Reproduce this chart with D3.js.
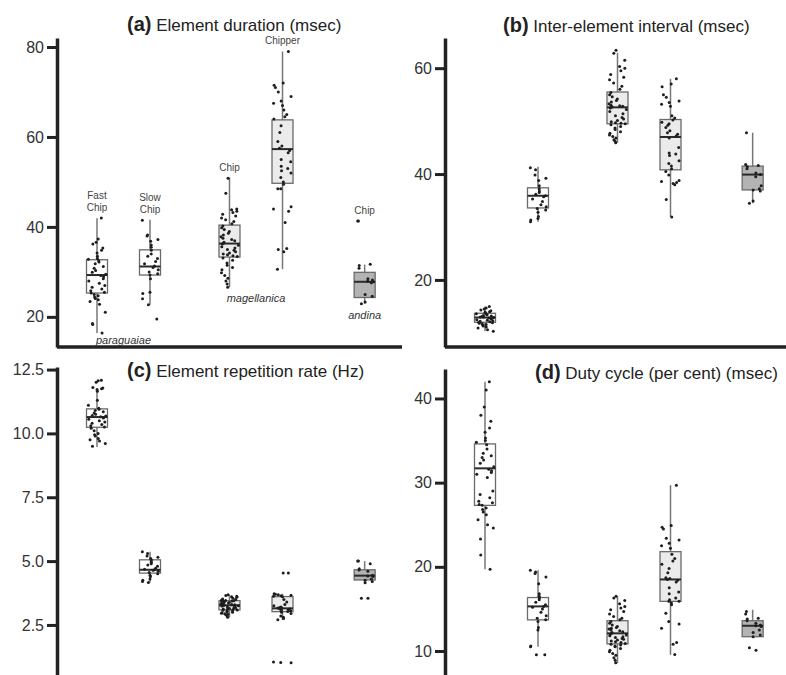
<!doctype html>
<html lang="en">
<head>
<meta charset="utf-8">
<title>Element measures</title>
<script src="https://d3js.org/d3.v7.min.js"></script>
<style>
  body { margin: 0; background: #fff; }
  svg text { font-family: Arial, "Liberation Sans", sans-serif; }
</style>
</head>
<body>
<script>
// groups, left to right, same in every panel
const groupLines   = [["Fast", "Chip"], ["Slow", "Chip"], ["Chip"], ["Chipper"], ["Chip"]];
const groupSpecies = [0, 0, 1, 1, 2];
const speciesNames = ["paraguaiae", "magellanica", "andina"];

// box stats per group: [whisker low, q1, median, q3, whisker high]
// (a) element duration (msec)
const durationBox = [[16.4, 25.3, 29.3, 32.7, 41.9], [22.7, 29.3, 31.2, 34.9, 41.6],
                     [26.6, 33.3, 36.3, 40.4, 51.0], [30.6, 49.7, 57.3, 63.8, 79.0],
                     [22.9, 24.3, 27.8, 29.9, 31.6]];
const durationPts = [
  [42.0, 37.3, 36.6, 36.2, 35.3, 34.8, 34.2, 33.5, 33.0, 32.8, 32.5, 32.2, 31.8, 31.2, 30.8, 30.3, 29.9, 29.5, 29.2, 28.9,
   28.5, 28.0, 27.5, 27.0, 26.6, 26.2, 25.8, 25.5, 25.3, 25.0, 24.7, 24.4, 24.1, 23.8, 23.4, 22.8, 21.0, 18.5, 18.3, 16.4],
  [41.5, 38.2, 38.0, 37.2, 36.8, 36.0, 35.5, 34.8, 34.0, 33.5, 33.0, 32.3, 31.8, 31.3, 31.0, 30.5, 30.0, 29.6, 29.3, 28.5,
   25.5, 25.2, 24.0, 22.7, 19.5],
  [50.8, 47.5, 44.0, 43.8, 43.5, 43.2, 42.8, 42.4, 42.0, 41.6, 41.2, 40.7, 40.2, 39.8, 39.4, 39.0, 38.6, 38.2, 37.8, 37.5,
   37.2, 36.9, 36.6, 36.4, 36.2, 35.9, 35.6, 35.3, 35.0, 34.8, 34.5, 34.2, 34.0, 33.8, 33.6, 33.4, 33.1, 32.6, 32.0, 31.5,
   31.0, 30.5, 29.8, 29.2, 28.6, 28.0, 27.3, 26.6],
  [79.0, 72.0, 71.5, 71.0, 70.0, 69.0, 68.0, 67.5, 67.0, 66.0, 65.0, 64.5, 64.0, 62.5, 61.0, 59.0, 58.0, 57.5, 57.0, 56.5,
   55.0, 54.5, 53.5, 53.0, 52.5, 52.0, 51.0, 50.0, 49.5, 48.5, 48.5, 44.5, 44.0, 43.5, 41.0, 35.2, 35.0, 34.5, 30.6],
  [41.3, 41.3, 31.7, 31.4, 30.8, 28.5, 28.2, 27.9, 27.8, 27.6, 25.0, 24.6, 23.3, 22.9]
];

// (b) inter-element interval (msec)
const intervalBox = [[10.3, 12.0, 12.9, 13.7, 15.0], [31.0, 33.6, 35.9, 37.4, 41.4],
                     [45.9, 49.5, 52.6, 55.5, 62.9], [31.9, 40.8, 47.0, 50.3, 58.0],
                     [34.5, 37.0, 39.9, 41.5, 47.8]];
const intervalPts = [
  [15.0, 14.7, 14.5, 14.3, 14.2, 14.0, 13.9, 13.8, 13.7, 13.6, 13.5, 13.4, 13.3, 13.2, 13.1, 13.0, 13.0, 12.9, 12.8, 12.7,
   12.6, 12.5, 12.4, 12.3, 12.2, 12.1, 12.0, 11.9, 11.8, 11.7, 11.6, 11.5, 11.3, 11.1, 10.9, 10.6, 10.3],
  [41.2, 40.8, 39.8, 39.2, 38.8, 37.8, 37.2, 36.8, 36.5, 36.2, 35.9, 35.7, 35.3, 34.8, 34.2, 33.8, 33.5, 33.2, 32.8, 32.0,
   31.6, 31.3, 31.0],
  [63.4, 62.8, 61.5, 60.3, 60.0, 59.5, 58.8, 58.3, 57.8, 57.2, 56.6, 56.0, 55.4, 55.0, 54.6, 54.2, 53.9, 53.6, 53.3, 53.0,
   52.9, 52.8, 52.7, 52.6, 52.5, 52.2, 51.8, 51.4, 51.0, 50.7, 50.4, 50.1, 49.9, 49.7, 49.6, 49.5, 49.3, 49.0, 48.7, 48.4,
   48.0, 47.7, 47.4, 47.1, 46.8, 46.5, 46.2, 45.9],
  [58.0, 57.0, 56.5, 55.0, 54.5, 53.8, 53.5, 53.2, 52.8, 51.0, 50.6, 50.2, 49.8, 49.5, 49.2, 48.8, 48.2, 47.8, 47.5, 47.2,
   46.8, 45.0, 44.0, 43.8, 43.5, 42.5, 42.0, 41.5, 41.0, 40.5, 39.8, 38.8, 38.6, 38.4, 38.2, 38.0, 35.2, 31.9],
  [47.8, 41.8, 41.6, 41.4, 41.0, 40.2, 39.9, 39.5, 37.8, 37.2, 37.0, 36.8, 34.9, 34.5]
];

// (c) element repetition rate (Hz)
const rateBox = [[9.47, 10.24, 10.64, 10.96, 11.65], [4.16, 4.53, 4.66, 5.05, 5.37],
                 [2.80, 3.09, 3.27, 3.45, 3.68], [2.70, 3.02, 3.15, 3.61, 3.72],
                 [4.13, 4.26, 4.43, 4.66, 5.00]];
const ratePts = [
  [12.08, 12.06, 12.0, 11.8, 11.78, 11.75, 11.72, 11.65, 11.3, 11.1, 10.98, 10.95, 10.9, 10.85, 10.8, 10.75, 10.7, 10.68,
   10.65, 10.62, 10.6, 10.55, 10.5, 10.45, 10.4, 10.35, 10.3, 10.25, 10.2, 10.1, 10.0, 9.95, 9.9, 9.8, 9.75, 9.7, 9.6, 9.5],
  [5.37, 5.3, 5.2, 5.15, 5.1, 5.05, 5.0, 4.95, 4.9, 4.85, 4.8, 4.72, 4.68, 4.66, 4.64, 4.6, 4.55, 4.5, 4.45, 4.4,
   4.3, 4.25, 4.2, 4.16],
  [3.68, 3.65, 3.62, 3.6, 3.58, 3.55, 3.52, 3.5, 3.48, 3.46, 3.45, 3.44, 3.43, 3.42, 3.4, 3.38, 3.36, 3.34, 3.32, 3.31,
   3.3, 3.29, 3.28, 3.27, 3.26, 3.25, 3.24, 3.22, 3.2, 3.18, 3.16, 3.14, 3.12, 3.11, 3.1, 3.09, 3.08, 3.06, 3.04, 3.02,
   3.0, 2.98, 2.96, 2.94, 2.92, 2.9, 2.85, 2.8],
  [4.53, 4.53, 3.72, 3.7, 3.68, 3.66, 3.64, 3.62, 3.6, 3.5, 3.4, 3.3, 3.25, 3.2, 3.18, 3.16, 3.15, 3.14, 3.12, 3.1,
   3.08, 3.06, 3.05, 3.03, 3.0, 2.95, 2.85, 2.8, 2.75, 2.7, 1.03, 1.02, 1.05],
  [5.0, 5.0, 4.9, 4.7, 4.65, 4.6, 4.45, 4.42, 4.4, 4.3, 4.25, 4.2, 4.15, 3.55, 3.55]
];

// (d) duty cycle (per cent)
const dutyBox = [[19.7, 27.3, 31.7, 34.6, 42.0], [10.5, 13.7, 15.3, 16.35, 19.6],
                 [8.55, 10.85, 12.1, 13.6, 16.5], [9.55, 15.9, 18.5, 21.8, 29.7],
                 [11.7, 11.7, 13.0, 13.6, 14.9]];
const dutyPts = [
  [42.0, 41.0, 39.0, 38.0, 37.3, 36.5, 36.0, 35.3, 35.0, 34.8, 34.5, 34.0, 33.5, 33.2, 33.0, 32.7, 32.3, 31.9, 31.6, 31.4,
   31.2, 31.0, 30.6, 29.0, 28.6, 28.2, 27.8, 27.6, 27.4, 27.3, 27.0, 26.8, 26.5, 26.2, 25.6, 25.0, 24.6, 23.3, 21.4, 19.7],
  [19.6, 19.4, 19.2, 18.8, 18.0, 16.8, 16.5, 16.3, 16.1, 15.8, 15.5, 15.3, 15.2, 15.0, 14.6, 14.2, 13.9, 13.7, 13.5, 12.8,
   12.5, 10.6, 10.5, 9.55, 9.55],
  [16.5, 16.3, 16.0, 15.6, 15.3, 15.1, 14.9, 14.7, 14.4, 14.1, 13.9, 13.7, 13.5, 13.3, 13.1, 12.9, 12.8, 12.7, 12.6, 12.5,
   12.4, 12.3, 12.2, 12.1, 12.0, 11.9, 11.8, 11.7, 11.6, 11.5, 11.4, 11.3, 11.2, 11.1, 11.0, 10.9, 10.8, 10.7, 10.6, 10.5,
   10.3, 10.1, 9.9, 9.7, 9.5, 9.2, 8.9, 8.6],
  [29.7, 24.9, 24.7, 24.5, 23.4, 23.2, 22.8, 22.5, 22.2, 21.5, 21.0, 20.7, 20.3, 19.8, 19.3, 18.7, 18.6, 18.5, 18.4, 18.2,
   17.5, 17.0, 16.8, 16.3, 16.1, 15.9, 15.9, 15.7, 15.5, 14.5, 13.5, 13.2, 12.7, 11.0, 10.8, 9.6],
  [14.7, 14.4, 13.9, 13.8, 13.6, 13.3, 13.1, 13.0, 12.9, 12.5, 12.2, 11.9, 11.7, 10.4, 10.1]
];

const boxFill = ["#ffffff", "#ffffff", "#ebebeb", "#ebebeb", "#b3b3b3"];
const groupSlot = [0, 1, 2.5, 3.5, 5.05];

const W = 786, H = 675;
const svg = d3.select("body").append("svg")
  .attr("width", W).attr("height", H);

// horizontal jitter for the dots (position only, fixed per index)
function jitter(k, i)
{
  const s = Math.sin((k + 1) * 12.9898 + (i + 1) * 78.233) * 43758.5453;
  return s - Math.floor(s) - 0.5;
}

function drawPanel(p)
{
  const g = svg.append("g");

  const y = d3.scaleLinear().domain(p.domain).range([p.bottom, p.top]);
  const x = d3.scaleLinear().domain([0, 5]).range([p.axisX + 40, p.axisX + 305]);

  // baseline (only the top row has one)
  if (p.base) {
    g.append("line")
      .attr("x1", p.axisX).attr("x2", p.right)
      .attr("y1", p.bottom).attr("y2", p.bottom)
      .attr("stroke", "#222").attr("stroke-width", 3.5);
  }

  // y axis
  const ax = g.append("g")
    .attr("transform", `translate(${p.axisX},0)`)
    .call(d3.axisLeft(y).tickValues(p.ticks).tickFormat(p.fmt)
      .tickSize(10).tickSizeOuter(0).tickPadding(3));
  ax.select(".domain").attr("stroke", "#222").attr("stroke-width", 3.5);
  ax.selectAll(".tick line").attr("stroke", "#222").attr("stroke-width", 3);
  ax.selectAll(".tick text").attr("fill", "#333").style("font-size", "16px");

  // boxes
  p.box.forEach((b, i) => {
    const cx = x(groupSlot[i]);
    const bw = 21;
    g.append("line")
      .attr("x1", cx).attr("x2", cx)
      .attr("y1", y(b[0])).attr("y2", y(b[4]))
      .attr("stroke", "#777").attr("stroke-width", 1.5);
    g.append("rect")
      .attr("x", cx - bw / 2).attr("width", bw)
      .attr("y", y(b[3])).attr("height", y(b[1]) - y(b[3]))
      .attr("fill", boxFill[i]).attr("stroke", "#6a6a6a").attr("stroke-width", 1.3);
    g.append("line")
      .attr("x1", cx - bw / 2).attr("x2", cx + bw / 2)
      .attr("y1", y(b[2])).attr("y2", y(b[2]))
      .attr("stroke", "#2a2a2a").attr("stroke-width", 2);
  });

  // jittered points
  p.pts.forEach((pts, i) => {
    const cx = x(groupSlot[i]);
    g.append("g").selectAll("circle")
      .data(pts)
      .join("circle")
      .attr("cx", (d, k) => cx + jitter(k, i) * 18)
      .attr("cy", d => y(d))
      .attr("r", 1.5)
      .attr("fill", "#1e1e1e");
  });

  // group + species labels (panel a only)
  if (p.labels) {
    p.pts.forEach((pts, i) => {
      const cx = x(groupSlot[i]);
      const topY = y(d3.max(pts)) - 7;
      const lines = groupLines[i];
      lines.forEach((t, k) => {
        g.append("text")
          .attr("x", cx)
          .attr("y", topY - (lines.length - 1 - k) * 12)
          .attr("text-anchor", "middle")
          .attr("fill", "#444")
          .style("font-size", "10px")
          .text(t);
      });
    });
    speciesNames.forEach((s, j) => {
      const idx = d3.range(5).filter(i => groupSpecies[i] === j);
      const cx = d3.mean(idx, i => x(groupSlot[i]));
      const low = d3.min(idx, i => d3.min(p.pts[i]));
      g.append("text")
        .attr("x", cx)
        .attr("y", Math.min(y(low) + 15, p.bottom - 3))
        .attr("text-anchor", "middle")
        .attr("fill", "#333")
        .style("font-size", "11px")
        .style("font-style", "italic")
        .text(s);
    });
  }

  // title
  const t = g.append("text")
    .attr("x", p.titleX).attr("y", p.titleY)
    .attr("fill", "#222");
  t.append("tspan").style("font-weight", "bold").style("font-size", "20px").text(p.letter);
  t.append("tspan").style("font-size", "17px").text(" " + p.title);
}

drawPanel({ letter: "(a)", title: "Element duration (msec)", titleX: 127, titleY: 31,
  box: durationBox, pts: durationPts, ticks: [20, 40, 60, 80], fmt: d3.format("d"),
  domain: [13.3, 82.0], axisX: 57, top: 38, bottom: 347, right: 402, base: true, labels: true });

drawPanel({ letter: "(b)", title: "Inter-element interval (msec)", titleX: 503, titleY: 32,
  box: intervalBox, pts: intervalPts, ticks: [20, 40, 60], fmt: d3.format("d"),
  domain: [7.33, 65.7], axisX: 445, top: 38, bottom: 347, right: 786, base: true, labels: false });

drawPanel({ letter: "(c)", title: "Element repetition rate (Hz)", titleX: 127, titleY: 377,
  box: rateBox, pts: ratePts, ticks: [2.5, 5, 7.5, 10, 12.5], fmt: d3.format(".1f"),
  domain: [0.54, 12.6], axisX: 57, top: 367, bottom: 675, right: 402, base: false, labels: false });

drawPanel({ letter: "(d)", title: "Duty cycle (per cent) (msec)", titleX: 535, titleY: 379,
  box: dutyBox, pts: dutyPts, ticks: [10, 20, 30, 40], fmt: d3.format("d"),
  domain: [7.15, 43.5], axisX: 445, top: 369, bottom: 675, right: 786, base: false, labels: false });
</script>
</body>
</html>
